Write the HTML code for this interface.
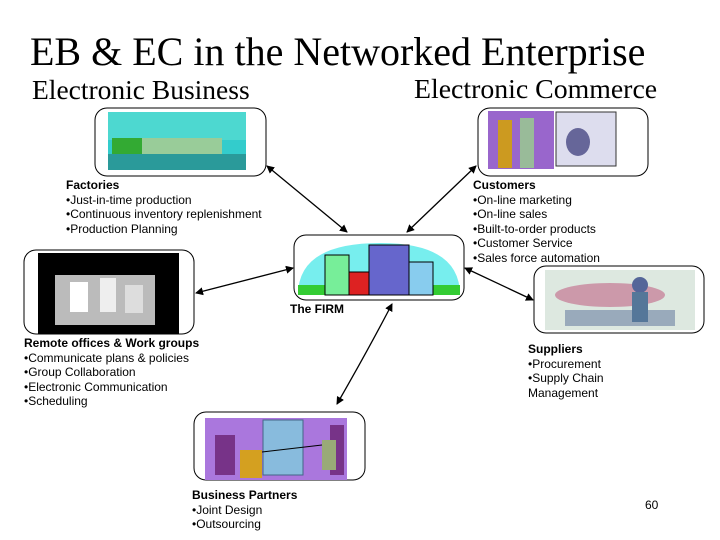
<!DOCTYPE html>
<html><head><meta charset="utf-8"><style>
body{margin:0;width:720px;height:540px;background:#fff;overflow:hidden;position:relative;font-family:"Liberation Sans",sans-serif}
.t{position:absolute;font-family:"Liberation Serif",serif;white-space:nowrap}
.l{position:absolute;font-size:12px;line-height:14.5px;white-space:nowrap;color:#000}
.l b{font-weight:bold}
</style></head><body>
<div class="t" style="left:30px;top:28px;font-size:40px">EB &amp; EC in the Networked Enterprise</div>
<div class="t" style="left:32px;top:74px;font-size:27.5px">Electronic Business</div>
<div class="t" style="left:414px;top:74px;font-size:27.8px">Electronic Commerce</div>
<svg width="720" height="540" style="position:absolute;left:0;top:0">
<defs><marker id="a" markerWidth="8" markerHeight="8" refX="7" refY="4" orient="auto-start-reverse" markerUnits="userSpaceOnUse"><path d="M0,0L8,4L0,8z" fill="#000"/></marker></defs>
<rect x="95" y="108" width="171" height="68" rx="12" fill="#fff" stroke="#000"/>
<rect x="108" y="112" width="138" height="58" fill="#3cc"/>
<rect x="108" y="112" width="138" height="28" fill="#4dd8d0"/>
<rect x="112" y="138" width="110" height="16" fill="#9c9"/><rect x="112" y="138" width="30" height="16" fill="#3a3"/>
<rect x="108" y="154" width="138" height="16" fill="#2a9a9a"/>
<rect x="478" y="108" width="170" height="68" rx="12" fill="#fff" stroke="#000"/>
<rect x="488" y="111" width="66" height="58" fill="#96c"/>
<rect x="498" y="120" width="14" height="48" fill="#cc9a20"/><rect x="520" y="118" width="14" height="50" fill="#9b9"/>
<rect x="556" y="112" width="60" height="54" fill="#dde" stroke="#333"/><ellipse cx="578" cy="142" rx="12" ry="14" fill="#669"/>
<rect x="294" y="235" width="170" height="65" rx="12" fill="#fff" stroke="#000"/>
<path d="M298,295 Q298,243 380,243 Q460,243 460,295z" fill="#7ee"/>
<rect x="298" y="285" width="162" height="10" fill="#3c3"/>
<rect x="325" y="255" width="24" height="40" fill="#7e9" stroke="#000"/>
<rect x="349" y="272" width="20" height="23" fill="#d22" stroke="#000"/>
<rect x="369" y="245" width="40" height="50" fill="#66c" stroke="#000"/>
<rect x="409" y="262" width="24" height="33" fill="#8ce" stroke="#000"/>
<rect x="24" y="250" width="170" height="84" rx="12" fill="#fff" stroke="#000"/>
<rect x="38" y="253" width="141" height="81" fill="#000"/>
<rect x="55" y="275" width="100" height="50" fill="#bbb"/>
<rect x="70" y="282" width="18" height="30" fill="#fff"/><rect x="100" y="278" width="16" height="34" fill="#eee"/><rect x="125" y="285" width="18" height="28" fill="#ddd"/>
<rect x="534" y="266" width="170" height="67" rx="12" fill="#fff" stroke="#000"/>
<rect x="545" y="270" width="150" height="60" fill="#dde8e0"/>
<ellipse cx="610" cy="295" rx="55" ry="12" fill="#c9a"/>
<rect x="565" y="310" width="110" height="16" fill="#9ab"/>
<circle cx="640" cy="285" r="8" fill="#569"/><rect x="632" y="292" width="16" height="30" fill="#579"/>
<rect x="194" y="412" width="171" height="68" rx="12" fill="#fff" stroke="#000"/>
<rect x="205" y="418" width="142" height="62" fill="#a7d"/>
<rect x="215" y="435" width="20" height="40" fill="#738"/><rect x="330" y="425" width="14" height="50" fill="#738"/>
<rect x="263" y="420" width="40" height="55" fill="#8bd" stroke="#468"/>
<rect x="240" y="450" width="22" height="28" fill="#d4a020"/><rect x="322" y="440" width="14" height="30" fill="#9a7"/>
<line x1="262" y1="452" x2="322" y2="445" stroke="#000"/>
<g stroke="#000" stroke-width="1.3" fill="none">
<line x1="267" y1="166" x2="347" y2="232" marker-start="url(#a)" marker-end="url(#a)"/>
<line x1="476" y1="166" x2="407" y2="232" marker-start="url(#a)" marker-end="url(#a)"/>
<line x1="196" y1="293" x2="293" y2="268" marker-start="url(#a)" marker-end="url(#a)"/>
<line x1="465" y1="268" x2="533" y2="300" marker-start="url(#a)" marker-end="url(#a)"/>
<path d="M392,304 Q368,350 337,404" marker-start="url(#a)" marker-end="url(#a)"/>
</g>
</svg>
<div class="l" style="left:66px;top:178px"><b>Factories</b><br>•Just-in-time production<br>•Continuous inventory replenishment<br>•Production Planning</div>
<div class="l" style="left:473px;top:178px"><b>Customers</b><br>•On-line marketing<br>•On-line sales<br>•Built-to-order products<br>•Customer Service<br>•Sales force automation</div>
<div class="l" style="left:290px;top:302px"><b>The FIRM</b></div>
<div class="l" style="left:24px;top:336px"><b>Remote offices &amp; Work groups</b><br>•Communicate plans &amp; policies<br>•Group Collaboration<br>•Electronic Communication<br>•Scheduling</div>
<div class="l" style="left:528px;top:342px"><b>Suppliers</b><br>•Procurement<br>•Supply Chain<br>Management</div>
<div class="l" style="left:192px;top:488px"><b>Business Partners</b><br>•Joint Design<br>•Outsourcing</div>
<div class="l" style="left:645px;top:498px;font-size:12px">60</div>
</body></html>
